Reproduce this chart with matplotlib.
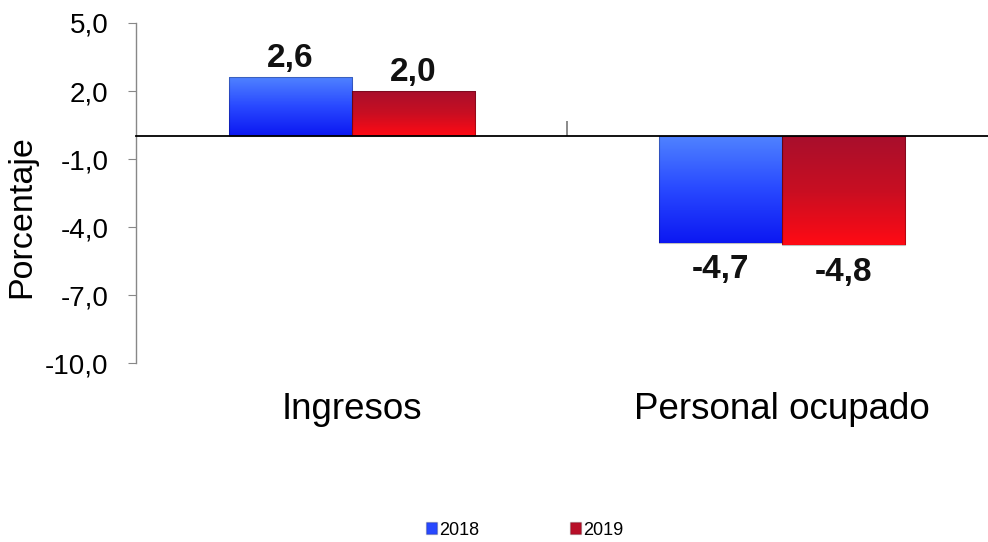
import numpy as np
import matplotlib.pyplot as plt
from matplotlib.patches import Patch
from matplotlib.colors import LinearSegmentedColormap

plt.rcParams['font.family'] = ['Liberation Sans', 'DejaVu Sans']

categories = ['Ingresos', 'Personal ocupado']
years = ['2018', '2019']
values_2018 = [2.6, -4.7]
values_2019 = [2.0, -4.8]
yticks = [5.0, 2.0, -1.0, -4.0, -7.0, -10.0]

# gradient colours (top -> bottom)
grad = {
    '2018': ['#4f82ff', '#2848ff', '#0c18f2'],
    '2019': ['#a80f2c', '#c80e22', '#ff0a14'],
}
legend_col = {'2018': '#2848ff', '2019': '#b80f28'}

fig = plt.figure(figsize=(9.88, 5.42), dpi=100)
ax = fig.add_axes([136 / 988, 1 - 363 / 542, 1 - 136 / 988, (363 - 23) / 542])

x = np.arange(len(categories))
w = 0.286
series = {'2018': values_2018, '2019': values_2019}
offsets = {'2018': -w / 2, '2019': w / 2}

for yr in years:
    bars = ax.bar(x + offsets[yr], series[yr], w, color='none',
                  edgecolor='#00000040', linewidth=0.8, zorder=3)
    cmap = LinearSegmentedColormap.from_list(yr, grad[yr])
    g = np.linspace(0, 1, 100).reshape(-1, 1)
    for b in bars:
        x0, y0 = b.get_x(), b.get_y()
        x1, y1 = x0 + b.get_width(), y0 + b.get_height()
        im = ax.imshow(g, cmap=cmap, aspect='auto', zorder=2,
                       extent=[x0, x1, min(y0, y1), max(y0, y1)], origin='upper')
        im.set_clip_path(b)
    for b, v in zip(bars, series[yr]):
        cx = b.get_x() + b.get_width() / 2
        dy = 19 if v > 0 else -27
        ax.annotate(f'{v:.1f}'.replace('.', ','), (cx, v), xytext=(0, dy),
                    textcoords='offset pixels', ha='center', va='center',
                    fontsize=24, fontweight='bold', color='#111111', zorder=5)

ax.set_xlim(-0.502, 1.479)
ax.set_ylim(-10, 5)

# axes styling
ax.spines['top'].set_visible(False)
ax.spines['right'].set_visible(False)
ax.spines['bottom'].set_position(('data', 0))
ax.spines['bottom'].set_color('black')
ax.spines['bottom'].set_linewidth(1.3)
ax.spines['left'].set_color('#888888')
ax.spines['left'].set_linewidth(1.0)

ax.set_yticks(yticks)
ax.set_yticklabels([f'{t:.1f}'.replace('.', ',') for t in yticks], fontsize=20)
ax.tick_params(axis='y', length=5.8, color='#888888', pad=14)

ax.set_xticks([0.5])
ax.set_xticklabels([''])
ax.tick_params(axis='x', direction='in', length=11, color='#777777', width=1.2)

for i, c in enumerate(categories):
    ax.text(i, -12.05, c, ha='center', va='center', fontsize=26.5, clip_on=False)

ax.set_ylabel('Porcentaje', fontsize=24.5)
ax.yaxis.set_label_coords(-0.116, 0.43)

handles = [Patch(facecolor=legend_col[yr], edgecolor='#00000030') for yr in years]
fig.legend(handles, years, loc='center', bbox_to_anchor=(0.531, 0.022), ncol=2,
           frameon=False, fontsize=13, handlelength=0.6, handleheight=0.6,
           handletextpad=0.15, columnspacing=5.0)

fig.savefig('out.png', dpi=100)
